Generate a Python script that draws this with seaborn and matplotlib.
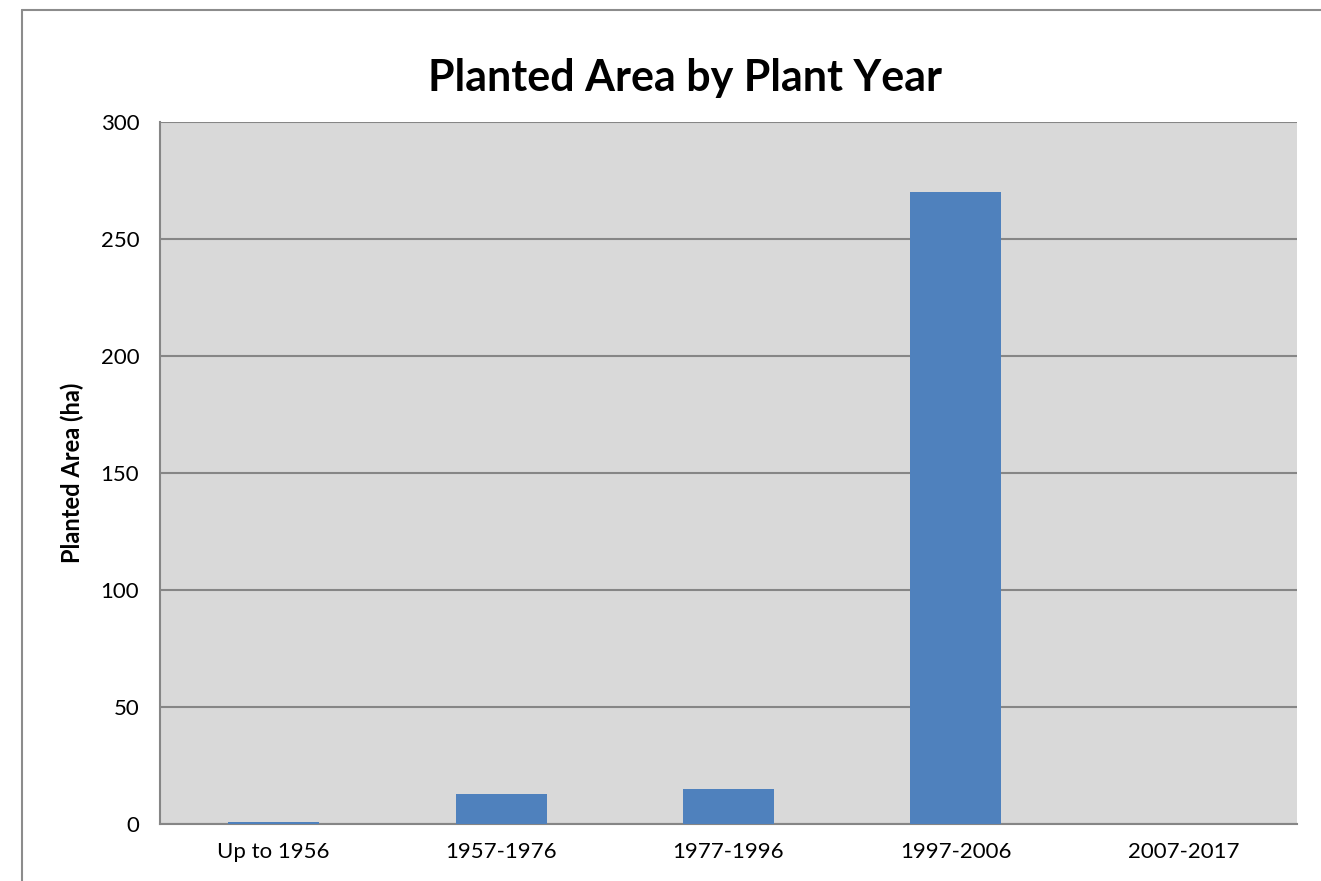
import matplotlib
matplotlib.use("Agg")
import matplotlib.pyplot as plt
from matplotlib.lines import Line2D
import seaborn as sns
import pandas as pd

# data
periods = ["Up to 1956", "1957-1976", "1977-1996", "1997-2006", "2007-2017"]
area_ha = [1.0, 12.8, 14.9, 270.0, 0.0]
y_ticks = [0, 50, 100, 150, 200, 250, 300]

df = pd.DataFrame({"period": periods, "area": area_ha})

sns.set_style("white")
plt.rcParams["font.family"] = ["Lato", "DejaVu Sans"]
plt.rcParams["text.color"] = "black"
plt.rcParams["axes.labelcolor"] = "black"
plt.rcParams["xtick.labelcolor"] = "black"
plt.rcParams["ytick.labelcolor"] = "black"

fig = plt.figure(figsize=(13.21, 8.81), dpi=100)
ax = fig.add_axes([160 / 1321, 1 - 824 / 881, 1137 / 1321, 702 / 881])
ax.set_facecolor("#d9d9d9")

sns.barplot(data=df, x="period", y="area", color="#4f81bd", width=0.4,
            saturation=1, linewidth=0, ax=ax, zorder=3)

ax.set_ylim(0, 300)
ax.set_xlim(-0.5, len(periods) - 0.5)
ax.set_yticks(y_ticks)
ax.yaxis.grid(True, color="#868686", linewidth=1.5, zorder=0)
ax.set_axisbelow(True)

# category boundary ticks on x
ax.set_xticks([i - 0.5 for i in range(len(periods) + 1)], minor=True)
ax.tick_params(axis="x", which="minor", length=5, width=1.5, color="#868686", direction="out")
ax.tick_params(axis="x", which="major", length=0, labelsize=16, pad=13)
ax.tick_params(axis="y", which="major", length=5, width=1.5, color="#868686",
               direction="out", labelsize=16, pad=10)

for side in ["top", "right"]:
    ax.spines[side].set_visible(False)
for side in ["left", "bottom"]:
    ax.spines[side].set_color("#868686")
    ax.spines[side].set_linewidth(1.5)

ax.set_xlabel("")
ax.set_ylabel("Planted Area (ha)", fontsize=17, fontweight="bold", labelpad=12)
fig.text(685 / 1321, 1 - 78 / 881, "Planted Area by Plant Year", ha="center",
         va="center", fontsize=31, fontweight="bold")

# outer chart frame (partly cropped)
fig.add_artist(Line2D([22 / 1321, 22 / 1321], [0, 1 - 10 / 881], color="#8c8c8c", linewidth=1.5))
fig.add_artist(Line2D([22 / 1321, 1], [1 - 10 / 881, 1 - 10 / 881], color="#8c8c8c", linewidth=1.5))

fig.savefig("out.png", dpi=100)
